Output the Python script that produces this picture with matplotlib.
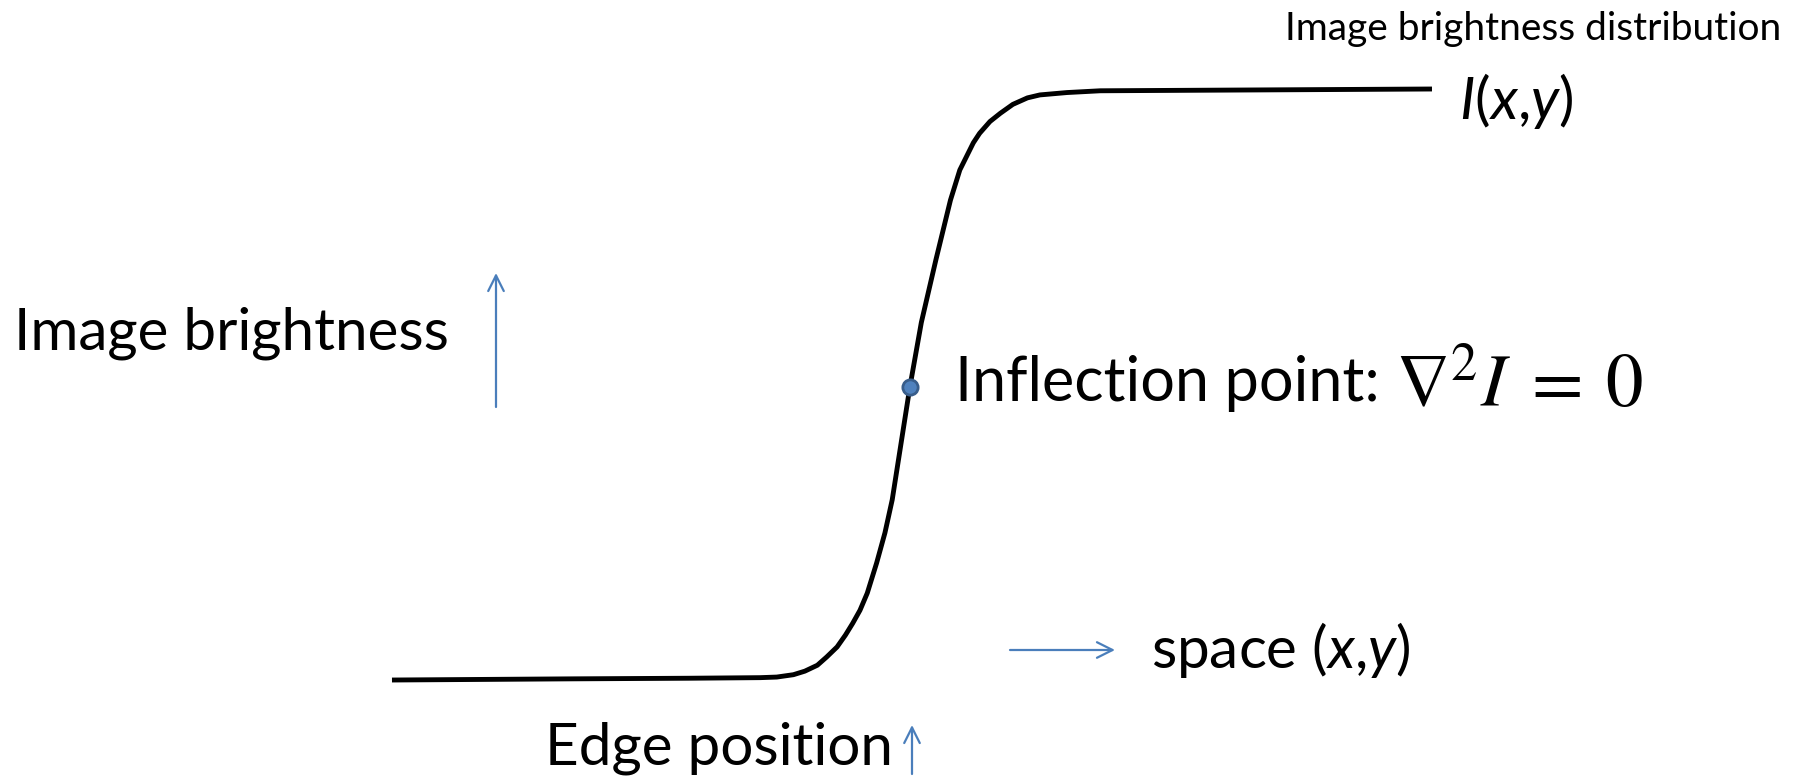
import matplotlib
matplotlib.use("Agg")
import matplotlib.pyplot as plt

# brightness profile across an edge (space in arbitrary units, brightness 0..1)
space = [0.0, 17.5, 28.5, 35.4, 37.0, 38.6, 39.7, 40.9, 41.8, 42.8, 43.6,
         44.3, 45.0, 45.7, 46.6, 47.4, 48.1, 49.8, 50.9, 52.3, 53.7, 54.6,
         55.9, 56.5, 57.5, 58.5, 59.7, 61.1, 62.3, 64.9, 68.1, 100.0]
brightness = [0.0, 0.002, 0.003, 0.004, 0.005, 0.009, 0.015, 0.025, 0.039,
              0.056, 0.076, 0.096, 0.118, 0.147, 0.198, 0.249, 0.305, 0.496,
              0.605, 0.711, 0.812, 0.863, 0.909, 0.925, 0.945, 0.959, 0.974,
              0.985, 0.990, 0.994, 0.997, 1.0]

# inflection point (edge position)
infl_space = [49.8]
infl_brightness = [0.496]

W, H = 1799, 777
FONT = "Lato"
BLUE = "#4A7EBB"

plt.rcParams["font.family"] = FONT
plt.rcParams["mathtext.fontset"] = "custom"
plt.rcParams["mathtext.rm"] = FONT
plt.rcParams["mathtext.it"] = FONT + ":italic"


def fp(x, y):
    # pixel position (from top-left) -> figure fraction
    return (x / W, 1 - y / H)


fig = plt.figure(figsize=(W / 100, H / 100), dpi=100)
ax = fig.add_axes([0, 0, 1, 1])
ax.set_xlim(-37.69, 135.29)
ax.set_ylim(-0.1641, 1.1506)
ax.axis("off")

ax.plot(space, brightness, color="black", linewidth=3.5,
        solid_capstyle="butt", solid_joinstyle="round")
ax.plot(infl_space, infl_brightness, marker="o", markersize=11,
        markerfacecolor="#4F81BD", markeredgecolor="#385D8A", markeredgewidth=2,
        linestyle="none", zorder=3)

big = 42
fig.text(*fp(14, 333), "Image brightness", fontsize=big, ha="left", va="center")
fig.text(*fp(1781, 29), "Image brightness distribution", fontsize=28,
         ha="right", va="center")
fig.text(*fp(1459, 101), "$I$($x$,$y$)", fontsize=big, ha="left", va="center")
fig.text(*fp(955, 384), "Inflection point:", fontsize=44, ha="left", va="center")
fig.text(*fp(1395, 386), r"$\nabla^2 I\;=\:0$", fontsize=54, ha="left",
         va="center", math_fontfamily="stix")
fig.text(*fp(1151, 650), "space ($x$,$y$)", fontsize=big, ha="left", va="center")
fig.text(*fp(545, 748), "Edge position", fontsize=big, ha="left", va="center")

arrow = dict(arrowstyle="->", color=BLUE, lw=1.6, mutation_scale=28,
             shrinkA=0, shrinkB=0)
ax.annotate("", xy=fp(496, 273), xytext=fp(496, 407),
            xycoords="figure fraction", textcoords="figure fraction",
            arrowprops=arrow)
ax.annotate("", xy=fp(1115, 650), xytext=fp(1010, 650),
            xycoords="figure fraction", textcoords="figure fraction",
            arrowprops=arrow)
ax.annotate("", xy=fp(912, 725), xytext=fp(912, 774),
            xycoords="figure fraction", textcoords="figure fraction",
            arrowprops=arrow)

fig.savefig("out.png", dpi=100, facecolor="white")
